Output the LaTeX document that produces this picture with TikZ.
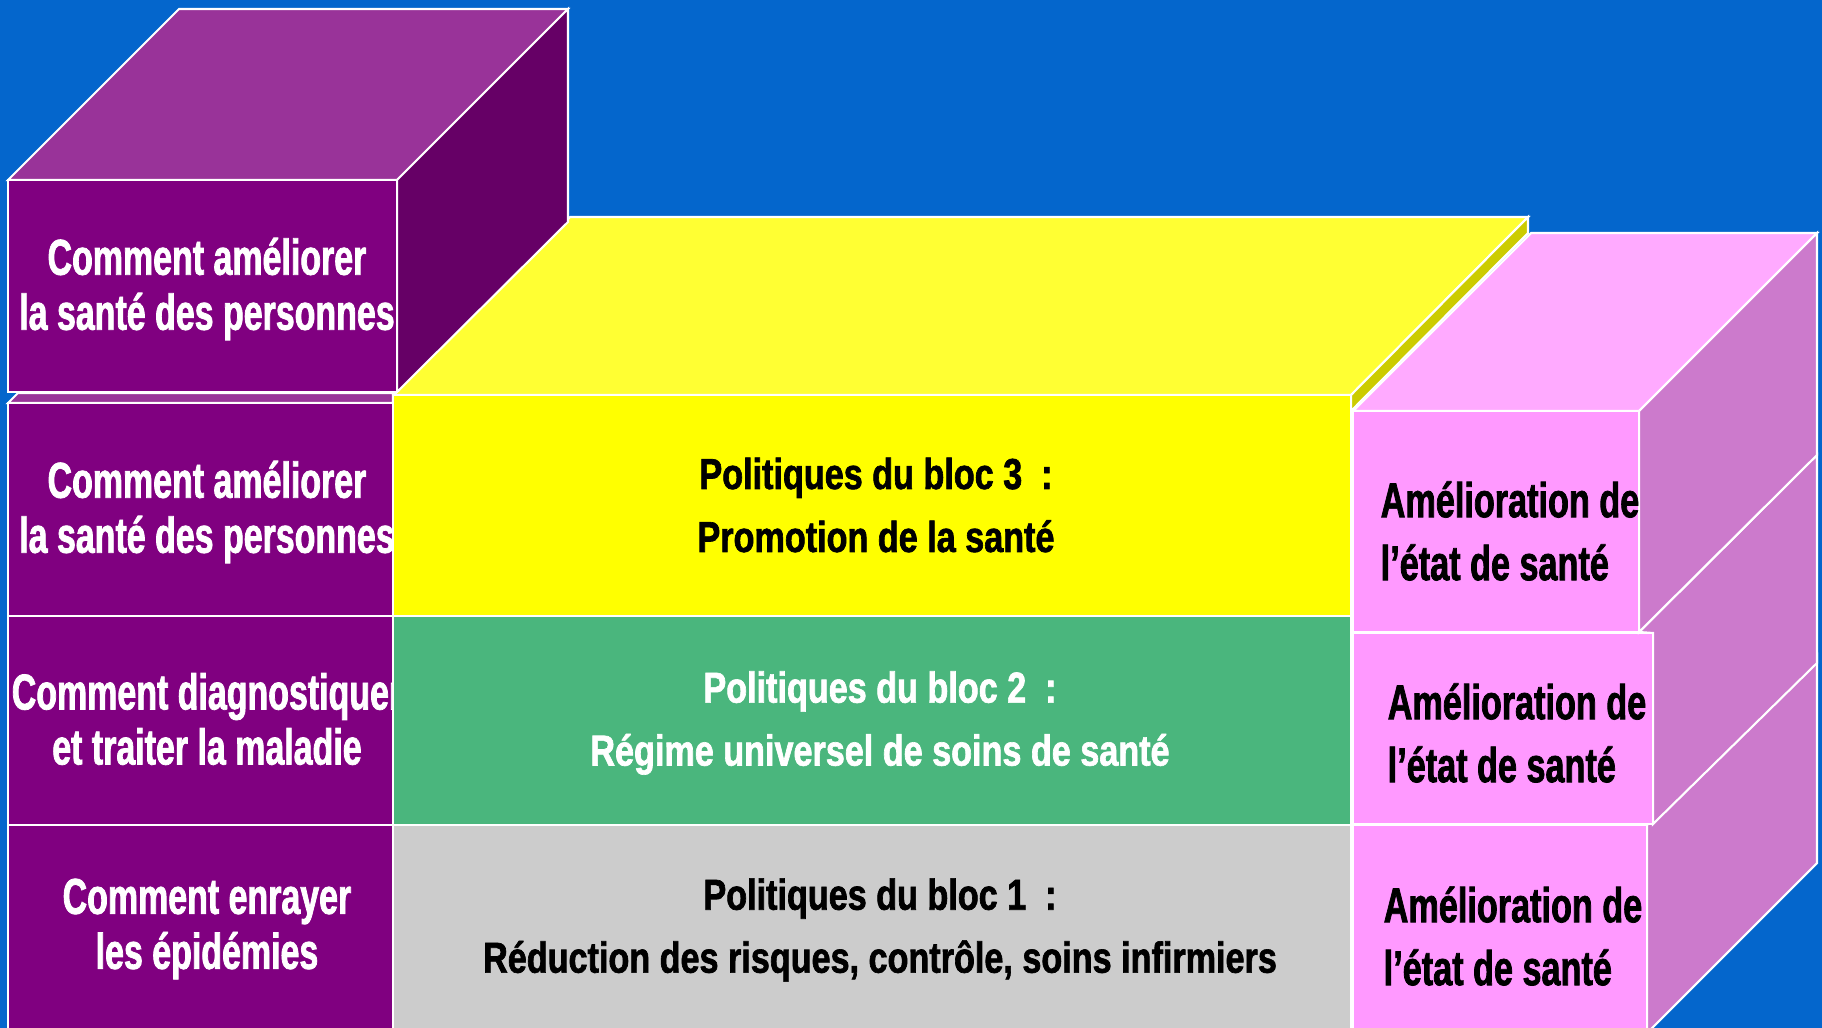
\documentclass[tikz,border=0pt]{standalone}
\usepackage{fontspec}
\usepackage{xcolor}
\usepackage{tikz}
\newfontfamily\gauchefont[FakeStretch=0.675, FakeBold=1.5]{Liberation Sans}
\newfontfamily\blocfont[FakeStretch=0.79, FakeBold=1.5]{Liberation Sans}
\newfontfamily\santefont[FakeStretch=0.70, FakeBold=1.5]{Liberation Sans}
\definecolor{fond}{HTML}{0466CC}
\definecolor{violetav}{HTML}{800080}
\definecolor{violethaut}{HTML}{993399}
\definecolor{violetcote}{HTML}{660066}
\definecolor{jauneav}{HTML}{FFFF00}
\definecolor{jaunehaut}{HTML}{FFFF33}
\definecolor{jaunecote}{HTML}{CCCC00}
\definecolor{vertav}{HTML}{4AB67D}
\definecolor{grisav}{HTML}{CCCCCC}
\definecolor{roseav}{HTML}{FF99FF}
\definecolor{rosehaut}{HTML}{FFAAFF}
\definecolor{rosecote}{HTML}{CC7ACC}

\begin{document}
\begin{tikzpicture}[x=0.01cm, y=-0.01cm,
    face/.style={draw=white, line width=0.6pt},
    txtgauche/.style={white, align=center, inner sep=0pt, font=\gauchefont\bfseries\fontsize{14.3}{15.65}\selectfont},
    txtbloc/.style={align=center, inner sep=0pt, font=\blocfont\bfseries\fontsize{12.3}{17.9}\selectfont},
    txtsante/.style={black, align=left, anchor=west, inner sep=0pt, font=\santefont\bfseries\fontsize{13.9}{17.9}\selectfont}]
    \clip (0,0) rectangle (1822,1028);
    \fill[fond] (0,0) rectangle (1822,1028);
    %DESSUS JAUNE
    \draw[face, fill=jaunehaut] (393,395) -- (570,217) -- (1528,217) -- (1351,395) -- cycle;
    \draw[face, fill=jaunecote] (1351,395) -- (1528,217) -- (1528,233) -- (1351,411) -- cycle;
    %COLONNE GAUCHE
    \draw[face, fill=violethaut] (8,403) -- (18,393) -- (393,393) -- (393,403) -- cycle;
    \draw[face, fill=violetav] (8,403) rectangle (393,616);
    \draw[face, fill=violetav] (8,616) rectangle (393,825);
    \draw[face, fill=violetav] (8,825) rectangle (393,1040);
    %CUBE VIOLET DU HAUT
    \draw[face, fill=violethaut] (8,180) -- (179,9) -- (568,9) -- (397,180) -- cycle;
    \draw[face, fill=violetcote] (397,180) -- (568,9) -- (568,222) -- (397,392) -- cycle;
    \draw[face, fill=violetav] (8,180) rectangle (397,392);
    \node[txtgauche] (q4) at (207,289) {Comment améliorer\\la santé des personnes};
    \node[txtgauche] (q3) at (207,512) {Comment améliorer\\la santé des personnes};
    \node[txtgauche] (q2) at (207,719) {Comment diagnostiquer\\et traiter la maladie};
    \node[txtgauche] (q1) at (207,929) {Comment enrayer\\les épidémies};
    %BLOCS DU MILIEU
    \draw[face, fill=jauneav] (393,395) rectangle (1351,616);
    \draw[face, fill=vertav] (393,616) rectangle (1351,825);
    \draw[face, fill=grisav] (393,825) rectangle (1351,1040);
    \node[txtbloc, black] (bloc3) at (876,505) {Politiques du bloc 3\ \ :\\Promotion de la santé};
    \node[txtbloc, white] (bloc2) at (880,723) {Politiques du bloc 2\ \ :\\Régime universel de soins de santé};
    \node[txtbloc, black] (bloc1) at (880,930) {Politiques du bloc 1\ \ :\\Réduction des risques, contrôle, soins infirmiers};
    %CUBES ROSES
    \draw[face, fill=rosecote] (1647,825) -- (1817,655) -- (1817,863) -- (1647,1033) -- cycle;
    \draw[face, fill=roseav] (1353,825) rectangle (1647,1040);
    \draw[face, fill=rosecote] (1639,632) -- (1817,455) -- (1817,663) -- (1653,824) -- (1653,633) -- cycle;
    \draw[face, fill=roseav] (1353,633) rectangle (1653,824);
    \draw[face, fill=rosehaut] (1353,411) -- (1531,233) -- (1817,233) -- (1639,411) -- cycle;
    \draw[face, fill=rosecote] (1639,411) -- (1817,233) -- (1817,455) -- (1639,632) -- cycle;
    \draw[face, fill=roseav] (1353,411) rectangle (1639,632);
    \node[txtsante] (etat3) at (1380,531) {Amélioration de\\l’état de santé};
    \node[txtsante] (etat2) at (1387,733) {Amélioration de\\l’état de santé};
    \node[txtsante] (etat1) at (1383,936) {Amélioration de\\l’état de santé};
\end{tikzpicture}
\end{document}
